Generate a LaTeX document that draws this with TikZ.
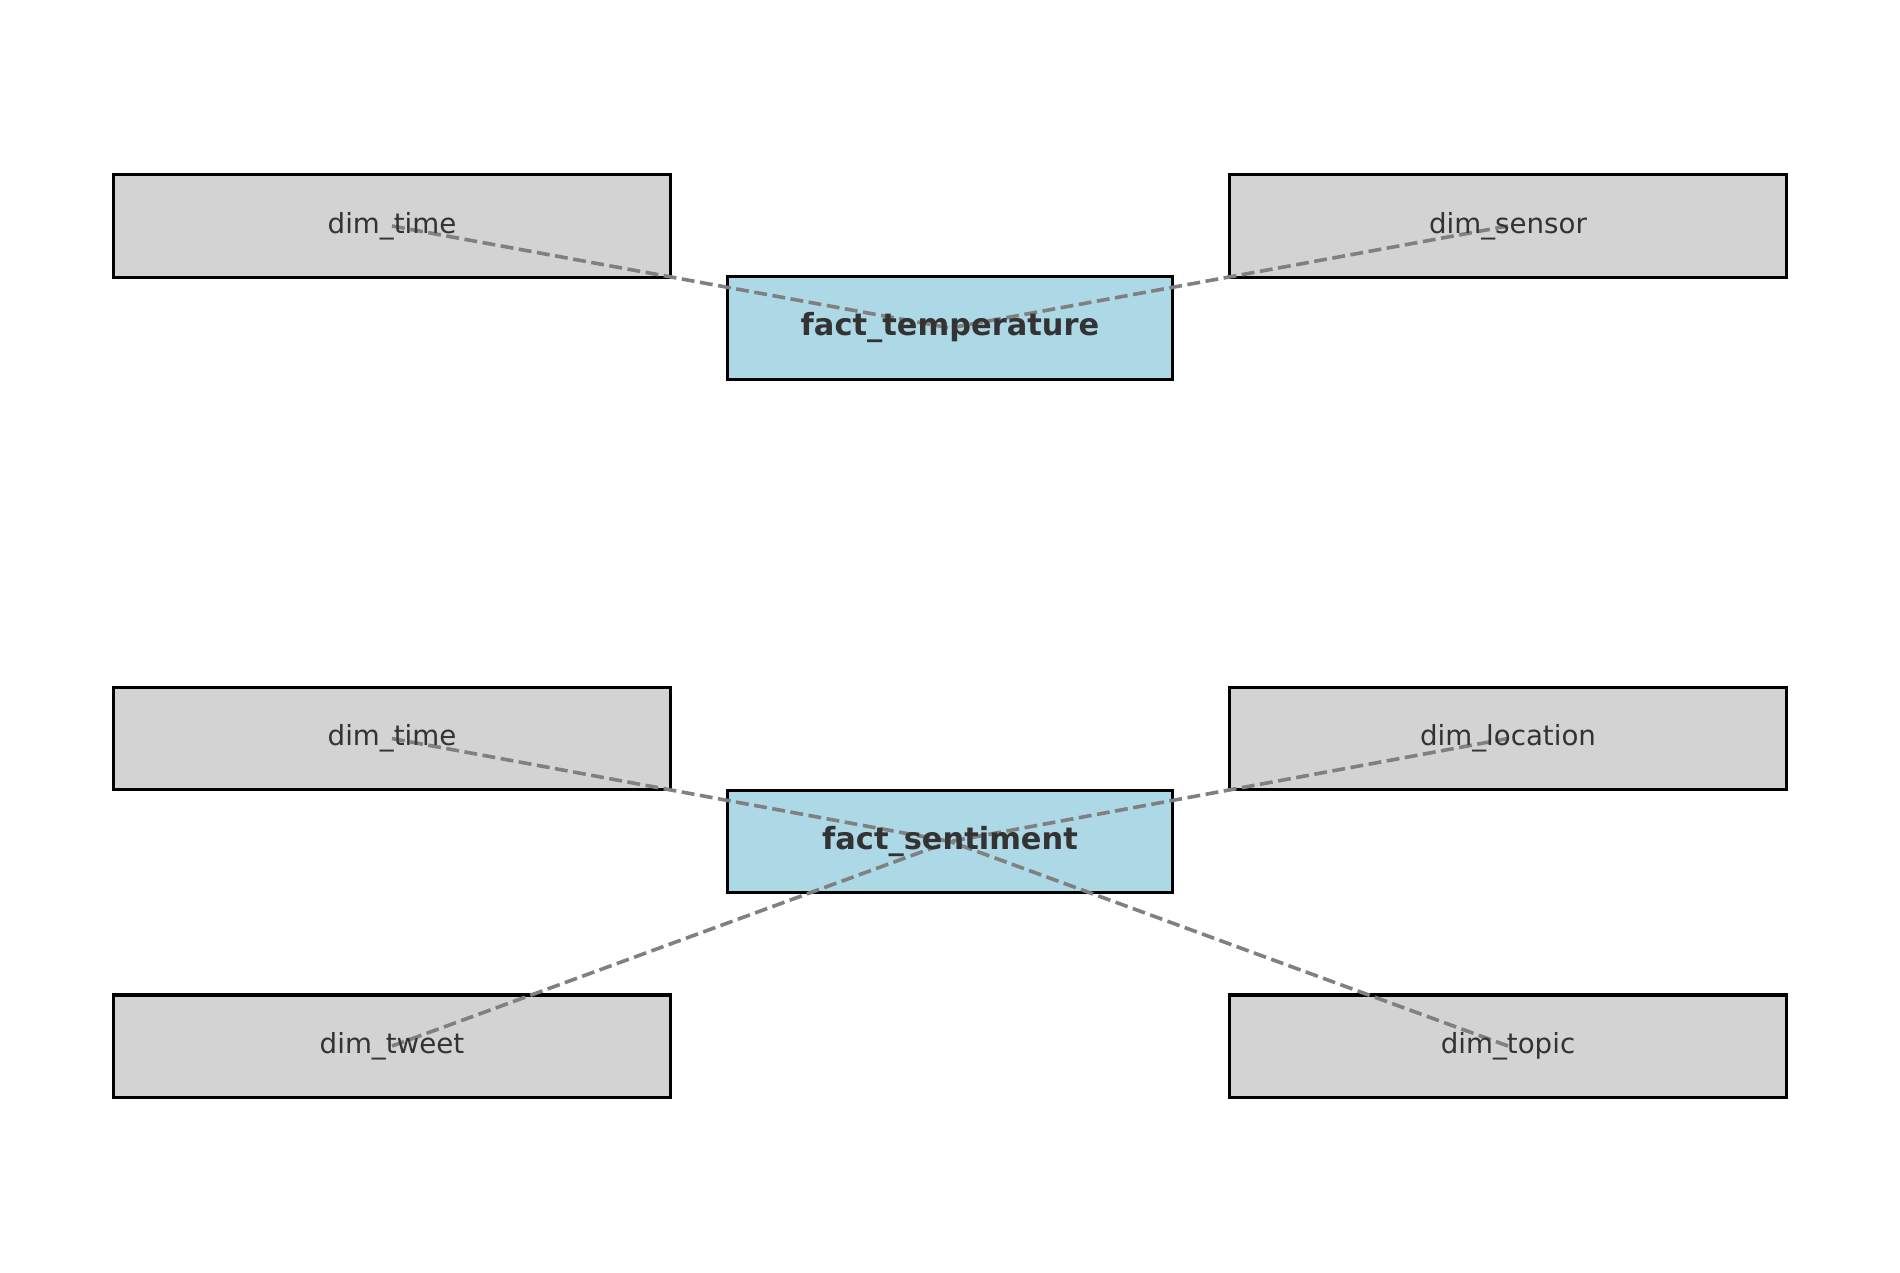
\documentclass[tikz,border=0pt]{standalone}
\usepackage{fontspec}
\setmainfont{DejaVu Sans}
\usepackage{tikz}
\usetikzlibrary{calc}
\usepackage{xcolor}
\definecolor{grigioBox}{HTML}{D3D3D3}
\definecolor{bluBox}{HTML}{ADD8E6}
\definecolor{grigioTesto}{HTML}{333333}
\definecolor{grigioLinea}{HTML}{808080}

\begin{document}
\begin{tikzpicture}[x = 0.01in, y = -0.01in,
    dimbox/.style = {draw = black, line width = 2.2pt, fill = grigioBox, inner sep = 0pt, minimum width = 5.57in, minimum height = 1.02in},
    factbox/.style = {dimbox, fill = bluBox, minimum width = 4.44in},
    link/.style = {grigioLinea, line width = 2.6pt, dash pattern = on 9.3pt off 4pt},
    etichetta/.style = {text = grigioTesto, font = \fontsize{20}{24}\selectfont},
    etichettaFact/.style = {etichetta, font = \fontsize{22}{26}\selectfont\bfseries}]
    % Parametri
    \pgfmathsetmacro{\xsx}{392}
    \pgfmathsetmacro{\xcen}{950}
    \pgfmathsetmacro{\xdx}{1508}
    \useasboundingbox (0,0) rectangle (1900,1272);
    % Tabelle
    \node[dimbox] (timeA) at (\xsx,226) {};
    \node[dimbox] (sensor) at (\xdx,226) {};
    \node[factbox] (temperature) at (\xcen,328) {};
    \node[dimbox] (timeB) at (\xsx,738.5) {};
    \node[dimbox] (location) at (\xdx,738.5) {};
    \node[factbox] (sentiment) at (\xcen,841.5) {};
    \node[dimbox] (tweet) at (\xsx,1046) {};
    \node[dimbox] (topic) at (\xdx,1046) {};
    % Collegamenti
    \foreach \d in {timeA, sensor} {
        \draw[link] (\d.center) -- (temperature.center);
    };
    \foreach \d in {timeB, location, tweet, topic} {
        \draw[link] (\d.center) -- (sentiment.center);
    };
    % Etichette
    \node[etichetta] at (timeA) {dim\_time};
    \node[etichetta] at (sensor) {dim\_sensor};
    \node[etichetta] at (timeB) {dim\_time};
    \node[etichetta] at (location) {dim\_location};
    \node[etichetta] at (tweet) {dim\_tweet};
    \node[etichetta] at (topic) {dim\_topic};
    \node[etichettaFact] at (temperature) {fact\_temperature};
    \node[etichettaFact] at (sentiment) {fact\_sentiment};
\end{tikzpicture}
\end{document}
